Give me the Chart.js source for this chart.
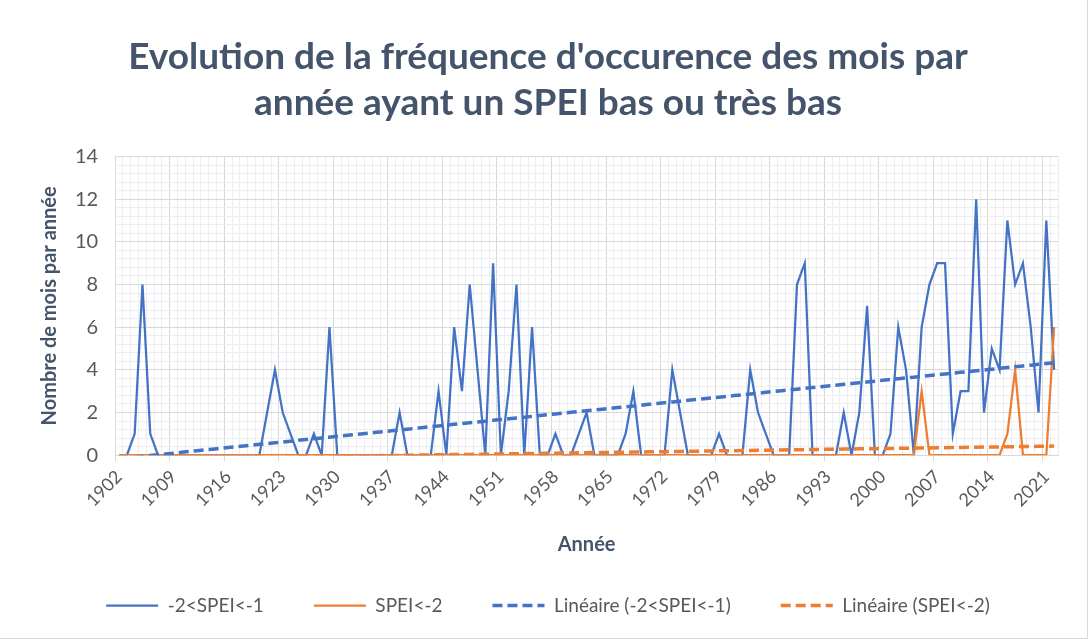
<!DOCTYPE html>
<html lang="fr">
<head>
<meta charset="utf-8">
<title>SPEI bas ou très bas</title>
<script src="https://cdn.jsdelivr.net/npm/chart.js@4/dist/chart.umd.min.js"></script>
<style>
  html, body { margin: 0; padding: 0; background: #fff; }
  #wrap {
    position: relative;
    width: 1088px;
    height: 639px;
    box-sizing: border-box;
    border-right: 1px solid #d9d9d9;
    border-bottom: 1px solid #d9d9d9;
    overflow: hidden;
  }
  canvas { display: block; }
</style>
</head>
<body>
<div id="wrap"><canvas id="speiChart" width="1088" height="639"></canvas></div>
<script>
// années (catégories)
const years = [
    1902, 1903, 1904, 1905, 1906, 1907, 1908, 1909, 1910, 1911,
    1912, 1913, 1914, 1915, 1916, 1917, 1918, 1919, 1920, 1921,
    1922, 1923, 1924, 1925, 1926, 1927, 1928, 1929, 1930, 1931,
    1932, 1933, 1934, 1935, 1936, 1937, 1938, 1939, 1940, 1941,
    1942, 1943, 1944, 1945, 1946, 1947, 1948, 1949, 1950, 1951,
    1952, 1953, 1954, 1955, 1956, 1957, 1958, 1959, 1960, 1961,
    1962, 1963, 1964, 1965, 1966, 1967, 1968, 1969, 1970, 1971,
    1972, 1973, 1974, 1975, 1976, 1977, 1978, 1979, 1980, 1981,
    1982, 1983, 1984, 1985, 1986, 1987, 1988, 1989, 1990, 1991,
    1992, 1993, 1994, 1995, 1996, 1997, 1998, 1999, 2000, 2001,
    2002, 2003, 2004, 2005, 2006, 2007, 2008, 2009, 2010, 2011,
    2012, 2013, 2014, 2015, 2016, 2017, 2018, 2019, 2020, 2021,
    2022
];

// années affichées sur l'axe
const tickYears = [1902, 1909, 1916, 1923, 1930, 1937, 1944, 1951, 1958,
    1965, 1972, 1979, 1986, 1993, 2000, 2007, 2014, 2021];

// nombre de mois avec -2 < SPEI < -1
const speiBas = [
    0, 0, 1, 8, 1, 0, 0, 0, 0, 0,
    0, 0, 0, 0, 0, 0, 0, 0, 0, 2,
    4, 2, 1, 0, 0, 1, 0, 6, 0, 0,
    0, 0, 0, 0, 0, 0, 2, 0, 0, 0,
    0, 3, 0, 6, 3, 8, 4, 0, 9, 0,
    3, 8, 0, 6, 0, 0, 1, 0, 0, 1,
    2, 0, 0, 0, 0, 1, 3, 0, 0, 0,
    0, 4, 2, 0, 0, 0, 0, 1, 0, 0,
    0, 4, 2, 1, 0, 0, 0, 8, 9, 0,
    0, 0, 0, 2, 0, 2, 7, 0, 0, 1,
    6, 4, 0, 6, 8, 9, 9, 1, 3, 3,
    12, 2, 5, 4, 11, 8, 9, 6, 2, 11,
    4
];

// nombre de mois avec SPEI < -2
const speiTresBas = [
    0, 0, 0, 0, 0, 0, 0, 0, 0, 0,
    0, 0, 0, 0, 0, 0, 0, 0, 0, 0,
    0, 0, 0, 0, 0, 0, 0, 0, 0, 0,
    0, 0, 0, 0, 0, 0, 0, 0, 0, 0,
    0, 0, 0, 0, 0, 0, 0, 0, 0, 0,
    0, 0, 0, 0, 0, 0, 0, 0, 0, 0,
    0, 0, 0, 0, 0, 0, 0, 0, 0, 0,
    0, 0, 0, 0, 0, 0, 0, 0, 0, 0,
    0, 0, 0, 0, 0, 0, 0, 0, 0, 0,
    0, 0, 0, 0, 0, 0, 0, 0, 0, 0,
    0, 0, 0, 3, 0, 0, 0, 0, 0, 0,
    0, 0, 0, 0, 1, 4, 0, 0, 0, 0,
    6
];

const BLUE = '#4472c4';
const ORANGE = '#ed7d31';
const GRID_MAJOR = '#d9d9d9';
const GRID_MINOR = '#eceef2';
const TEXT = '#595959';
const TITLE = '#44546a';
const FONT = 'Lato';

// droite de régression (courbe de tendance linéaire)
function linearTrend(values) {
    const n = values.length;
    let sx = 0, sy = 0, sxy = 0, sxx = 0;
    values.forEach((v, i) => {
        sx += i; sy += v; sxy += i * v; sxx += i * i;
    });
    const slope = (n * sxy - sx * sy) / (n * sxx - sx * sx);
    const intercept = (sy - slope * sx) / n;
    return values.map((v, i) => intercept + slope * i);
}

function isMajorY(v) {
    return Math.abs(v / 2 - Math.round(v / 2)) < 1e-6;
}

// légende : reprendre l'épaisseur et les tirets des séries
function legendLabels(chart) {
    const items = Chart.defaults.plugins.legend.labels.generateLabels(chart);
    items.forEach((item) => {
        const ds = chart.data.datasets[item.datasetIndex];
        item.lineDash = ds.borderDash || [];
        item.lineWidth = ds.borderWidth;
    });
    return items;
}

new Chart(document.getElementById('speiChart'), {
    type: 'line',
    data: {
        labels: years,
        datasets: [
            {
                label: '-2<SPEI<-1',
                data: speiBas,
                borderColor: BLUE,
                borderWidth: 2.25,
                order: 3
            },
            {
                label: 'SPEI<-2',
                data: speiTresBas,
                borderColor: ORANGE,
                borderWidth: 2.25,
                order: 2
            },
            {
                label: 'Linéaire (-2<SPEI<-1)',
                data: linearTrend(speiBas),
                borderColor: BLUE,
                borderWidth: 3.5,
                borderDash: [10, 5],
                order: 0
            },
            {
                label: 'Linéaire (SPEI<-2)',
                data: linearTrend(speiTresBas),
                borderColor: ORANGE,
                borderWidth: 3.5,
                borderDash: [10, 5],
                order: 1
            }
        ]
    },
    options: {
        responsive: false,
        animation: false,
        devicePixelRatio: 1,
        elements: {
            point: { radius: 0 },
            line: { tension: 0, fill: false }
        },
        layout: {
            padding: { left: 38, right: 30, top: 34, bottom: 14 }
        },
        plugins: {
            title: {
                display: true,
                text: ['Evolution de la fréquence d\'occurence des mois par',
                       'année ayant un SPEI bas ou très bas'],
                color: TITLE,
                font: { family: FONT, size: 37, weight: 'bold', lineHeight: 1.25 },
                padding: { top: 0, bottom: 30 }
            },
            legend: {
                position: 'bottom',
                labels: {
                    usePointStyle: true,
                    pointStyle: 'line',
                    pointStyleWidth: 52,
                    color: TEXT,
                    font: { family: FONT, size: 19 },
                    padding: 50,
                    generateLabels: legendLabels,
                    // garder l'ordre des séries, pas l'ordre de dessin
                    sort: (a, b) => a.datasetIndex - b.datasetIndex
                }
            },
            tooltip: { enabled: false }
        },
        scales: {
            x: {
                offset: true,
                grid: {
                    offset: true,
                    color: (ctx) => ctx.index % 7 === 0 ? GRID_MAJOR : GRID_MINOR,
                    tickColor: (ctx) => ctx.index % 7 === 0 ? GRID_MAJOR : 'rgba(0,0,0,0)',
                    tickLength: 6
                },
                border: { color: GRID_MAJOR },
                ticks: {
                    autoSkip: false,
                    minRotation: 45,
                    maxRotation: 45,
                    padding: 5,
                    color: TEXT,
                    font: { family: FONT, size: 18 },
                    callback: function (value, index) {
                        const y = years[index];
                        return tickYears.includes(y) ? String(y) : '';
                    }
                },
                title: {
                    display: true,
                    text: 'Année',
                    color: TITLE,
                    font: { family: FONT, size: 20, weight: 'bold' },
                    padding: { top: 17, bottom: -11 }
                }
            },
            y: {
                min: 0,
                max: 14,
                grid: {
                    color: (ctx) => isMajorY(ctx.tick.value) ? GRID_MAJOR : GRID_MINOR,
                    drawTicks: false
                },
                border: { display: false },
                ticks: {
                    stepSize: 0.4,
                    autoSkip: false,
                    padding: 17,
                    color: TEXT,
                    font: { family: FONT, size: 20 },
                    callback: (v) => isMajorY(v) ? String(Math.round(v)) : ''
                },
                title: {
                    display: true,
                    text: 'Nombre de mois par année',
                    color: TITLE,
                    font: { family: FONT, size: 20, weight: 'bold' },
                    padding: { top: 0, bottom: -4 }
                }
            }
        }
    }
});
</script>
</body>
</html>
